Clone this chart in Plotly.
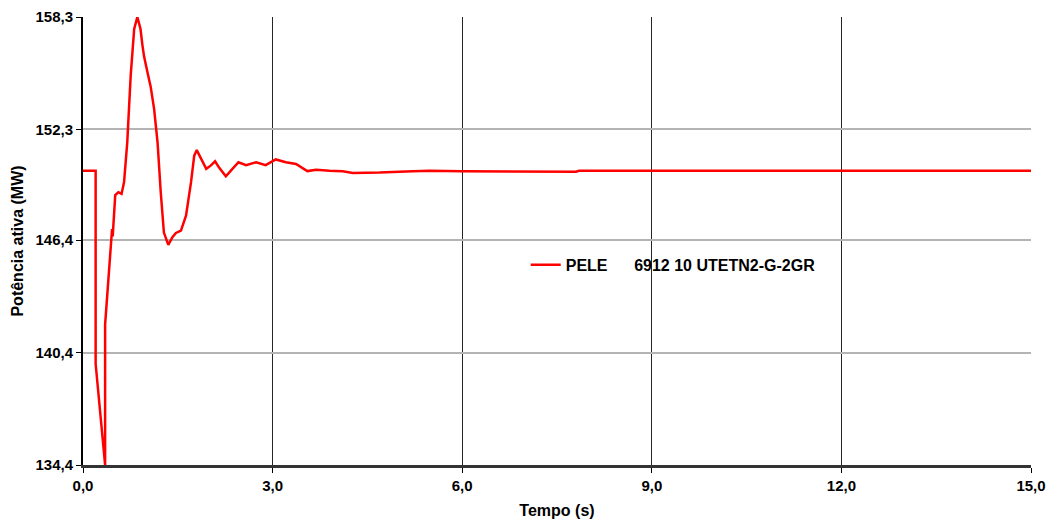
import plotly.graph_objects as go

# Time (s) and active power (MW)
tempo = [0.0, 0.2, 0.2, 0.35, 0.35, 0.46, 0.47, 0.51, 0.56, 0.61, 0.65, 0.70, 0.755, 0.81, 0.86,
         0.91, 0.94, 0.966, 1.02, 1.07, 1.125, 1.18, 1.23, 1.28, 1.35, 1.415, 1.47, 1.55, 1.63,
         1.71, 1.76, 1.80, 1.86, 1.95, 2.02, 2.09, 2.15, 2.26, 2.34, 2.46, 2.58, 2.74, 2.89,
         3.05, 3.21, 3.37, 3.55, 3.69, 3.90, 4.11, 4.27, 4.69, 5.22, 5.48, 6.0, 7.0, 7.8, 7.85,
         9.0, 12.0, 15.0]
potencia = [150.1, 150.1, 139.8, 134.4, 141.9, 146.99, 146.6, 148.8, 148.95, 148.86, 149.5,
            151.6, 155.2, 157.66, 158.3, 157.66, 156.8, 156.2, 155.35, 154.6, 153.4, 151.6,
            148.95, 146.8, 146.14, 146.55, 146.78, 146.9, 147.7, 149.5, 150.9, 151.2, 150.8,
            150.2, 150.37, 150.6, 150.28, 149.8, 150.1, 150.55, 150.4, 150.55, 150.4, 150.7,
            150.55, 150.46, 150.08, 150.15, 150.1, 150.07, 149.98, 150.0, 150.07, 150.1, 150.07,
            150.05, 150.05, 150.1, 150.1, 150.1, 150.1]

serie_nome = "PELE\u00a0\u00a0\u00a0\u00a0\u00a0\u00a06912 10 UTETN2-G-2GR"

x_ticks = [0, 3, 6, 9, 12, 15]
x_labels = ["0,0", "3,0", "6,0", "9,0", "12,0", "15,0"]
y_ticks = [134.4, 140.4, 146.4, 152.3, 158.3]
y_labels = ["134,4", "140,4", "146,4", "152,3", "158,3"]

FAM = "Liberation Sans, Arial, sans-serif"
tick_font = dict(family=FAM, size=15, color="black")
title_font = dict(family=FAM, size=16, color="black")

fig = go.Figure()
fig.add_trace(go.Scatter(x=tempo, y=potencia, mode="lines",
                         name="<b>%s</b>" % serie_nome,
                         line=dict(color="#ff0000", width=2.5)))

fig.update_layout(
    width=1045, height=518,
    margin=dict(l=75, r=22, t=9, b=61),
    plot_bgcolor="white", paper_bgcolor="white",
    font=dict(family=FAM, size=15, color="black"),
    showlegend=True,
    legend=dict(x=0.467, y=0.447, xanchor="left", yanchor="middle",
                bgcolor="rgba(0,0,0,0)", font=dict(family=FAM, size=16, color="black")),
)
fig.update_xaxes(range=[0, 15], tickvals=x_ticks, automargin=False,
                 ticktext=["<b>%s</b>" % t for t in x_labels],
                 showgrid=True, gridcolor="#262626", gridwidth=1,
                 showline=True, linecolor="#333333", linewidth=3,
                 ticks="outside", ticklen=5, tickcolor="black",
                 title=dict(text="<b>Tempo (s)</b>", standoff=12, font=title_font),
                 tickfont=tick_font, zeroline=False)
fig.update_yaxes(range=[134.4, 158.3], tickvals=y_ticks, automargin=False,
                 ticktext=["<b>%s</b>" % t for t in y_labels],
                 showgrid=True, gridcolor="#b4b4b4", gridwidth=1.5,
                 showline=True, linecolor="black", linewidth=2,
                 ticks="outside", ticklen=5, tickcolor="black",
                 title=dict(text="<b>Potência ativa (MW)</b>", standoff=8, font=title_font),
                 tickfont=tick_font, zeroline=False)

fig.write_html("out.html")
